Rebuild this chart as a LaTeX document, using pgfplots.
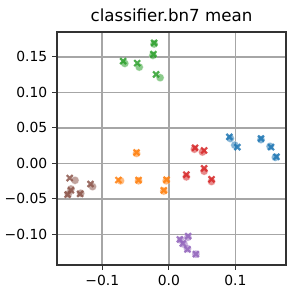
\documentclass[border=0pt]{standalone}
\usepackage{pgfplots}
\pgfplotsset{compat=1.18}
\usepackage{fontspec}
\setmainfont{DejaVu Sans}
\definecolor{tb}{HTML}{1F77B4}
\definecolor{to}{HTML}{FF7F0E}
\definecolor{tg}{HTML}{2CA02C}
\definecolor{tr}{HTML}{D62728}
\definecolor{tp}{HTML}{9467BD}
\definecolor{tn}{HTML}{8C564B}
\begin{document}
\begin{tikzpicture}
\useasboundingbox (-41.04pt,-24.48pt) rectangle (174.24pt,190.8pt);
\begin{axis}[
  at={(0pt,0pt)}, anchor=south west,
  scale only axis, width=164.9pt, height=167.8pt,
  xmin=-0.168, xmax=0.176, ymin=-0.143, ymax=0.185,
  xtick={-0.1,0,0.1}, xticklabels={−0.1,0.0,0.1},
  ytick={-0.1,-0.05,0,0.05,0.1,0.15},
  yticklabels={−0.10,−0.05,0.00,0.05,0.10,0.15},
  tick label style={font=\fontsize{10}{12}\selectfont},
  tick align=outside,
  major tick length=3.5pt,
  xmajorgrids=true, ymajorgrids=true,
  major grid style={black!35, line width=1.2pt},
  axis line style={black!80, line width=0.8pt},
  xtick style={black!80, line width=0.8pt},
  ytick style={black!80, line width=0.8pt},
  xtick pos=bottom, ytick pos=left,
  title={classifier.bn7 mean},
  title style={font=\fontsize{12}{14}\selectfont, yshift=-2pt},
]
% circles
\addplot[only marks, mark=*, mark size=2.9pt, draw=white, line width=0.3pt, fill=tb, fill opacity=0.55, draw opacity=0.55] coordinates {(0.0925,0.0350)(0.0990,0.0257)(0.1384,0.0335)(0.1520,0.0240)(0.1600,0.0085)};
\addplot[only marks, mark=*, mark size=2.9pt, draw=white, line width=0.3pt, fill=to, fill opacity=0.55, draw opacity=0.55] coordinates {(-0.0485,0.0140)(-0.0725,-0.0245)(-0.0455,-0.0245)(-0.0040,-0.0245)(-0.0076,-0.0390)};
\addplot[only marks, mark=*, mark size=2.9pt, draw=white, line width=0.3pt, fill=tg, fill opacity=0.55, draw opacity=0.55] coordinates {(-0.0222,0.1680)(-0.0240,0.1520)(-0.0662,0.1407)(-0.0444,0.1355)(-0.0131,0.1206)};
\addplot[only marks, mark=*, mark size=2.9pt, draw=white, line width=0.3pt, fill=tr, fill opacity=0.55, draw opacity=0.55] coordinates {(0.0384,0.0200)(0.0505,0.0160)(0.0263,-0.0190)(0.0530,-0.0110)(0.0641,-0.0255)};
\addplot[only marks, mark=*, mark size=2.9pt, draw=white, line width=0.3pt, fill=tp, fill opacity=0.55, draw opacity=0.55] coordinates {(0.0180,-0.1080)(0.0285,-0.1040)(0.0230,-0.1140)(0.0280,-0.1200)(0.0406,-0.1277)};
\addplot[only marks, mark=*, mark size=2.9pt, draw=white, line width=0.3pt, fill=tn, fill opacity=0.55, draw opacity=0.55] coordinates {(-0.1409,-0.0238)(-0.1146,-0.0327)(-0.1470,-0.0360)(-0.1323,-0.0420)(-0.1510,-0.0430)};
% crosses
\addplot[only marks, mark=x, mark size=3pt, line width=1.6pt, draw=tb, draw opacity=0.85] coordinates {(0.0909,0.0374)(0.1030,0.0229)(0.1384,0.0350)(0.1535,0.0229)(0.1616,0.0093)};
\addplot[only marks, mark=x, mark size=3pt, line width=1.6pt, draw=to, draw opacity=0.85] coordinates {(-0.0485,0.0154)(-0.0758,-0.0234)(-0.0455,-0.0234)(-0.0035,-0.0229)(-0.0076,-0.0379)};
\addplot[only marks, mark=x, mark size=3pt, line width=1.6pt, draw=tg, draw opacity=0.85] coordinates {(-0.0222,0.1696)(-0.0232,0.1537)(-0.0687,0.1439)(-0.0475,0.1411)(-0.0192,0.1252)};
\addplot[only marks, mark=x, mark size=3pt, line width=1.6pt, draw=tr, draw opacity=0.85] coordinates {(0.0394,0.0220)(0.0530,0.0182)(0.0263,-0.0159)(0.0530,-0.0070)(0.0641,-0.0224)};
\addplot[only marks, mark=x, mark size=3pt, line width=1.6pt, draw=tp, draw opacity=0.85] coordinates {(0.0165,-0.1070)(0.0290,-0.1024)(0.0210,-0.1127)(0.0280,-0.1210)(0.0406,-0.1277)};
\addplot[only marks, mark=x, mark size=3pt, line width=1.6pt, draw=tn, draw opacity=0.85] coordinates {(-0.1490,-0.0206)(-0.1177,-0.0290)(-0.1520,-0.0439)(-0.1333,-0.0430)(-0.1470,-0.0379)};
\end{axis}
\end{tikzpicture}
\end{document}
